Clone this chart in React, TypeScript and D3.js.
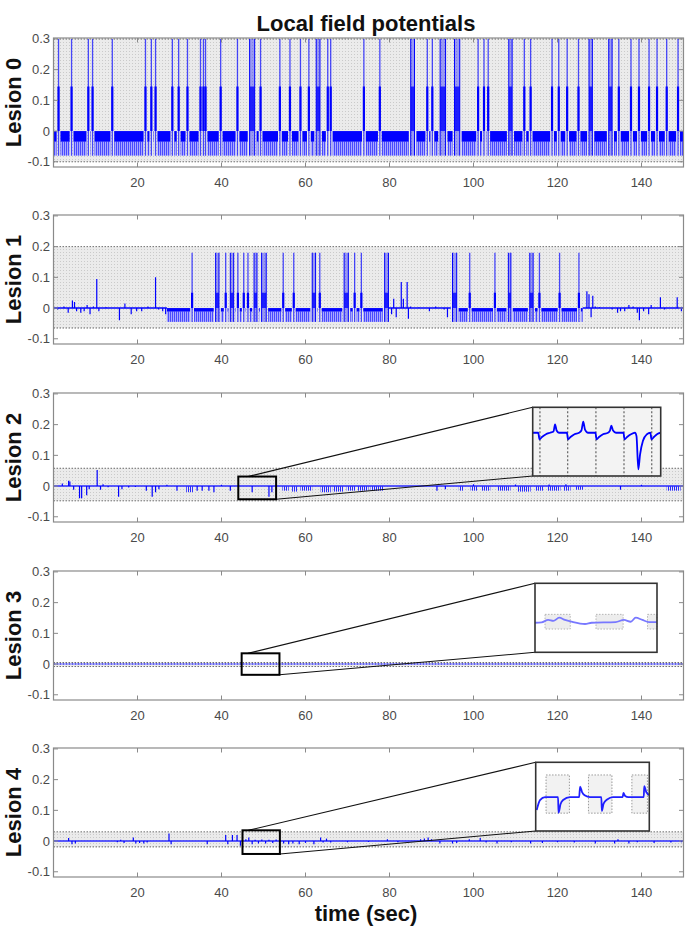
import React from "react";
import * as d3 from "d3";

// ---------------- DATA ----------------
const TITLE = "Local field potentials";
const X_LABEL = "time (sec)";
const PANEL_LABELS = ["Lesion 0", "Lesion 1", "Lesion 2", "Lesion 3", "Lesion 4"];
const X_DOMAIN = [0, 150];
const Y_DOMAIN = [-0.117, 0.303];
const X_TICKS = [20, 40, 60, 80, 100, 120, 140];
const Y_TICKS = [-0.1, 0, 0.1, 0.2, 0.3];
// threshold band (low, high) per lesion
const BANDS = [
  [-0.1, 0.3],
  [-0.065, 0.2],
  [-0.048, 0.058],
  [-0.008, 0.005],
  [-0.019, 0.03],
];

// Lesion 0 : burst times (s) and burst widths (s)
const L0_SPIKE_T = [1.2, 4.3, 8.3, 9.3, 14, 21.9, 23.3, 24.3, 28.3, 29.8, 31.9, 35, 35.7, 36.2, 39.8, 43.8,
  47.3, 49.3, 53.9, 56.3, 58.8, 60.8, 63, 65.3, 66, 73.9, 77.7, 85.5, 89, 90.2, 92.7, 96.1, 101.1, 102.5,
  103.5, 108.8, 112.1, 113.6, 118.7, 120.3, 122.3, 125, 127.9, 132.6, 134.6, 137.5, 139.4, 141.8, 143.7, 146, 148.7];
const L0_SPIKE_W = [0, 0, 0, 0, 0, 0, 0, 0, 0, 0, 0, 0, 0, 0, 0, 0,
  1.2, 0, 0, 0, 0, 0, 0.9, 0, 0, 0, 0, 0.9, 0, 0, 1.3, 1.25, 0, 0,
  0, 0.8, 0, 0, 0, 0, 0, 0, 0.8, 0.8, 0, 0, 0, 0, 0, 0, 0];
const L0_LEVELS = [0.145, 0.3]; // dense top, peak
const L0_FLOOR = [0, -0.035, -0.08]; // dense floor: top, mid, bottom
const L0_REGIONS = [[0, 150]];

// Lesion 1
const L1_SPIKE_T = [33, 39, 41, 42.5, 43.9, 45.3, 46.3, 48.1, 50.1, 54.7, 57.2, 62, 63.4, 69.7, 71.7, 73.3, 79.3,
  95.5, 99.1, 105.1, 108.6, 113.8, 115.7, 120.5, 125.1];
const L1_SPIKE_W = [0, 0.8, 0, 0.8, 0, 0, 0, 0.7, 1.1, 0, 0, 0.8, 0, 1.0, 0, 0, 0.9,
  1.0, 0, 0, 0.6, 0.8, 0, 0, 0];
const L1_LEVELS = [0.05, 0.18];
const L1_FLOOR = [0, -0.012, -0.045];
const L1_REGIONS = [[27, 79.8], [94.6, 126]];
const L1_QUIET = [[0, 27], [79.8, 94.6], [126, 150]];
const L1_EVENTS = [[1, -0.005], [2.5, 0.005], [3.5, -0.015], [4.5, 0.025], [5, 0.02], [5.5, -0.01], [6.5, -0.015],
  [7.3, -0.01], [8, 0.01], [8.7, -0.02], [9.5, 0.005], [10.3, 0.095], [10.8, -0.01], [12.5, 0.003], [15.7, -0.04],
  [17, 0.015], [18.5, -0.02], [19.8, -0.01], [21, -0.01], [22.5, 0.005], [24.3, 0.1], [25, -0.005], [26, -0.01],
  [26.7, -0.02], [80.5, -0.02], [81, 0.03], [81.6, -0.03], [82.8, 0.085], [83.3, 0.03], [84.2, 0.085], [84.5, -0.035],
  [85, 0.005], [87, 0.002], [89.5, -0.01], [91, 0.005], [93, -0.005], [93.8, -0.03], [127, 0.055], [127.5, 0.045],
  [128, -0.03], [128.4, 0.04], [129, 0.005], [130, 0.003], [133, -0.005], [134.3, -0.015], [135, -0.01], [136, -0.01],
  [137, 0.01], [138, 0.005], [139, -0.015], [139.5, -0.04], [140.5, -0.01], [141.7, -0.02], [142.3, 0.01],
  [144.5, 0.035], [145.5, -0.005], [148.5, 0.035], [149.5, -0.01]];

// Lesion 2
const L2_EVENTS = [[2.1, 0.008], [3.6, 0.017], [3.9, 0.015], [4.8, -0.012], [6.2, -0.04], [6.7, -0.04], [7.9, -0.03],
  [8.5, -0.01], [10.4, 0.052], [11.2, -0.012], [11.8, 0.006], [13, -0.004], [15.5, -0.035], [16.3, -0.01],
  [17.9, -0.005], [19.5, -0.003], [22.1, -0.015], [23.5, -0.035], [24.3, -0.02], [25.1, -0.01], [27, 0.004],
  [29.4, -0.015], [34.2, -0.015], [35.4, -0.015], [37, -0.015], [38.2, -0.02], [40, 0.004], [42.1, -0.015],
  [47.3, -0.02], [51.3, -0.035], [52, -0.02], [91.3, -0.015], [93.3, -0.01], [100, 0.006], [110, 0.005],
  [118, 0.005], [122, 0.006], [135, -0.012], [140, 0.004]];
const L2_CLUSTERS = [[31.6, 33.2, -0.02], [54.5, 56, -0.015], [56.8, 58.2, -0.018], [58.8, 61.6, -0.015],
  [63.6, 66, -0.02], [66.5, 69.1, -0.018], [69.8, 72, -0.015], [72.5, 75, -0.015], [75.5, 78.6, -0.015],
  [96.5, 97.6, -0.015], [99.3, 100.9, -0.015], [102, 104, -0.015], [105.6, 108.8, -0.015], [110.4, 113.6, -0.018],
  [114.8, 116.7, -0.015], [117.5, 120.7, -0.015], [121.5, 123.1, -0.015], [124.3, 126.3, -0.012], [146, 149.3, -0.015]];

// Lesion 4
const L4_EVENTS = [[3.6, 0.01], [4.4, -0.01], [5.2, -0.008], [15.2, -0.004], [16, 0.004], [16.8, -0.006], [19, 0.012],
  [19.6, -0.008], [20.5, -0.006], [21.5, -0.008], [22.3, -0.005], [27.5, 0.025], [28, -0.01], [36.6, -0.01],
  [41, 0.02], [41.5, -0.01], [42.6, 0.02], [43.7, 0.02], [44.5, -0.015], [45.8, 0.006], [46.5, 0.012],
  [47.3, -0.01], [48, 0.004], [48.8, -0.008], [49.6, 0.005], [50.5, -0.008], [51.3, 0.004], [52.2, -0.006],
  [53, 0.005], [54.8, -0.008], [56, -0.01], [57, -0.008], [58.5, -0.01], [60, -0.006], [62, -0.01], [63.6, 0.012],
  [64.2, -0.005], [65, 0.008], [66, -0.005], [70, -0.004], [75, -0.003], [79.5, 0.006], [82, -0.004], [87.4, 0.006],
  [88.3, 0.008], [89.2, 0.012], [90, 0.006], [92, -0.008], [95, -0.008], [96, -0.006], [99, 0.006], [101.6, 0.01],
  [103, -0.005], [105.6, -0.008], [109, -0.004], [113.6, -0.008], [116.4, -0.006], [120, -0.004], [124, -0.005],
  [129, -0.008], [133.6, -0.008], [134.4, 0.006], [137, -0.008], [139, -0.004], [143, -0.006], [147, -0.005],
  [149.5, -0.004]];

// Zoom windows and connector start time on top edge
const ZOOM_PANELS = [2, 3, 4];
const ZOOM_T = [[44, 53], [44.8, 53.8], [45, 53.9]];
const ZOOM_V = [[-0.043, 0.031], [-0.035, 0.035], [-0.042, 0.035]];
const ZOOM_LINK_T = [46.3, 46.3, 46.4];
// Inset axis domains
const INSET_T = [[44.5, 52.8], [45, 54], [45.1, 54.1]];
const INSET_V = [[-0.043, 0.031], [-0.035, 0.035], [-0.042, 0.035]];

const INSET2_MARKS = [44.97, 46.77, 48.6, 50.42, 52.22];
const INSET2_TRACE = [[44.5, 0.0036], [44.86, 0.0036], [44.94, -0.0035], [45.1, -0.001], [45.36, 0.002], [45.62, 0.0036],
  [45.85, 0.005], [45.95, 0.0127], [46.05, 0.006], [46.2, 0.0036], [46.72, 0.0036], [46.79, -0.0035], [46.95, -0.001],
  [47.21, 0.002], [47.5, 0.0036], [47.66, 0.006], [47.78, 0.0155], [47.89, 0.007], [48.09, 0.0036], [48.57, 0.0036],
  [48.64, -0.0035], [48.8, -0.001], [49.06, 0.002], [49.38, 0.0036], [49.51, 0.006], [49.6, 0.0112], [49.71, 0.006],
  [49.9, 0.0036], [50.39, 0.0036], [50.45, -0.0035], [50.62, -0.001], [50.87, 0.002], [51.13, 0.0036], [51.23, 0.0],
  [51.35, -0.0358], [51.46, -0.02], [51.65, -0.005], [51.91, 0.002], [52.13, 0.0036], [52.2, -0.0035], [52.36, -0.001],
  [52.56, 0.002], [52.8, 0.0036]];

const INSET3_BOXES_T = [[45.74, 47.6], [49.5, 51.5], [53.3, 54.2]];
const INSET3_BOX_V = [-0.0114, 0.0035];
const INSET3_TRACE = [[45, -0.005], [45.49, -0.0046], [45.98, -0.0022], [46.35, -0.0032], [46.79, 0.0001],
  [47.21, -0.0022], [47.7, -0.004], [48.69, -0.0063], [49.18, -0.005], [50.95, -0.0043], [51.56, -0.0022],
  [52.06, -0.004], [52.43, 0.0001], [52.92, -0.0022], [53.41, -0.0043], [54, -0.0043]];

const INSET4_BOXES_T = [[45.92, 47.77], [49.28, 51.14], [52.72, 53.95]];
const INSET4_BOX_V = [-0.022, 0.0208];
const INSET4_TRACE = [[45.18, -0.0185], [45.44, -0.0073], [45.84, -0.004], [46.71, -0.004], [46.87, -0.004],
  [46.91, -0.0215], [47.07, -0.0118], [47.27, -0.0073], [47.82, -0.004], [48.54, -0.004], [48.62, 0.0076],
  [48.77, 0.0017], [49.01, -0.0022], [49.4, -0.004], [50.3, -0.004], [50.34, -0.0196], [50.48, -0.0112],
  [50.76, -0.0067], [51.23, -0.004], [51.99, -0.004], [52.05, 0.0006], [52.19, -0.0028], [52.43, -0.004],
  [53.66, -0.004], [53.7, 0.0084], [53.86, 0.0017], [54.1, -0.0017]];

// ---------------- LAYOUT ----------------
const W = 685;
const H = 929;
const PANEL_TOPS = [38, 215, 393, 571, 748];
const PANEL_H = 129;
const X_RANGE = [53.5, 683.5];
const INSET_BOXES = [
  [532.7, 407.3, 660.7, 476],
  [535, 583.3, 657, 652.3],
  [535.7, 762.3, 649.3, 831],
];
const FONT = "'Liberation Sans', Arial, Helvetica, sans-serif";
const AXIS_COLOR = "#8a8a8a";
const TEXT_COLOR = "#4a4a4a";
const BLUE = "#0000ff";

const x = d3.scaleLinear().domain(X_DOMAIN).range(X_RANGE);
const yFor = (i: number) =>
  d3.scaleLinear().domain(Y_DOMAIN).range([PANEL_TOPS[i] + PANEL_H, PANEL_TOPS[i]]);

function bandSegments(region: number[], ts: number[], ws: number[], gap: number) {
  const [a, b] = region;
  const segs: number[][] = [];
  let start = a;
  const idx = ts.map((t, i) => i).sort((p, q) => ts[p] - ts[q]);
  idx.forEach((i) => {
    const t = ts[i];
    if (t < a || t > b) return;
    const half = ws[i] / 2 + gap;
    const end = t - half;
    if (end > start) segs.push([start, end]);
    start = Math.max(start, t + half);
  });
  if (b > start) segs.push([start, b]);
  return segs;
}

function Bursts({ i, ts, ws, levels, floor, regions }: any) {
  const y = yFor(i);
  const segs = regions.flatMap((r: number[]) => bandSegments(r, ts, ws, 0.45));
  return (
    <g>
      {segs.map((s: number[], k: number) => (
        <g key={"s" + k}>
          <rect x={x(s[0])} width={x(s[1]) - x(s[0])} y={y(floor[0])} height={y(floor[1]) - y(floor[0])} fill={BLUE} />
          <rect x={x(s[0])} width={x(s[1]) - x(s[0])} y={y(floor[1])} height={y(floor[2]) - y(floor[1])} fill="url(#stripes)" />
        </g>
      ))}
      {ts.map((t: number, k: number) => {
        const w = ws[k];
        if (w > 0) {
          const x0 = x(t - w / 2), x1 = x(t + w / 2);
          return (
            <g key={"b" + k}>
              <rect x={x0} width={x1 - x0} y={y(levels[1])} height={y(floor[2]) - y(levels[1])} fill={BLUE} fillOpacity={0.35} />
              <rect x={x0} width={x1 - x0} y={y(levels[0])} height={y(0) - y(levels[0])} fill={BLUE} fillOpacity={0.8} />
              <line x1={x0} x2={x0} y1={y(levels[1])} y2={y(floor[2])} stroke={BLUE} strokeWidth={1} />
              <line x1={x1} x2={x1} y1={y(levels[1])} y2={y(floor[2])} stroke={BLUE} strokeWidth={1} />
            </g>
          );
        }
        return (
          <g key={"b" + k}>
            <line x1={x(t)} x2={x(t)} y1={y(levels[1])} y2={y(floor[2])} stroke={BLUE} strokeOpacity={0.7} strokeWidth={1.3} />
            <line x1={x(t)} x2={x(t)} y1={y(levels[0])} y2={y(0)} stroke={BLUE} strokeWidth={2.2} />
          </g>
        );
      })}
    </g>
  );
}

function Events({ i, events, width = 1.2 }: any) {
  const y = yFor(i);
  return (
    <g>
      {events.map((e: number[], k: number) => (
        <line key={k} x1={x(e[0])} x2={x(e[0])} y1={y(0)} y2={y(e[1])} stroke={BLUE} strokeWidth={width} />
      ))}
    </g>
  );
}

function Baseline({ i, ranges, color = BLUE, width = 1.4, dash }: any) {
  const y = yFor(i);
  return (
    <g>
      {ranges.map((r: number[], k: number) => (
        <line key={k} x1={x(r[0])} x2={x(r[1])} y1={y(0)} y2={y(0)} stroke={color} strokeWidth={width} strokeDasharray={dash} />
      ))}
    </g>
  );
}

function Band({ i }: { i: number }) {
  const y = yFor(i);
  const [lo, hi] = BANDS[i];
  return (
    <g>
      <rect x={X_RANGE[0]} width={X_RANGE[1] - X_RANGE[0]} y={y(hi)} height={y(lo) - y(hi)} fill="url(#dots)" />
      {[lo, hi].map((v, k) => (
        <line key={k} x1={X_RANGE[0]} x2={X_RANGE[1]} y1={y(v)} y2={y(v)} stroke="#6e6e6e" strokeWidth={1} strokeDasharray="1.5 1.5" />
      ))}
    </g>
  );
}

function Axes({ i }: { i: number }) {
  const y = yFor(i);
  const top = PANEL_TOPS[i];
  const bot = top + PANEL_H;
  const tl = 4.5;
  return (
    <g fontFamily={FONT}>
      <rect x={X_RANGE[0]} y={top} width={X_RANGE[1] - X_RANGE[0]} height={PANEL_H} fill="none" stroke={AXIS_COLOR} strokeWidth={1.2} />
      {X_TICKS.map((t) => (
        <g key={"x" + t}>
          <line x1={x(t)} x2={x(t)} y1={bot} y2={bot - tl} stroke={AXIS_COLOR} strokeWidth={1} />
          <line x1={x(t)} x2={x(t)} y1={top} y2={top + tl} stroke={AXIS_COLOR} strokeWidth={1} />
          <text x={x(t)} y={bot + 20} textAnchor="middle" fontSize={13} fill={TEXT_COLOR}>{t}</text>
        </g>
      ))}
      {Y_TICKS.map((v) => (
        <g key={"y" + v}>
          <line x1={X_RANGE[0]} x2={X_RANGE[0] + tl} y1={y(v)} y2={y(v)} stroke={AXIS_COLOR} strokeWidth={1} />
          <line x1={X_RANGE[1]} x2={X_RANGE[1] - tl} y1={y(v)} y2={y(v)} stroke={AXIS_COLOR} strokeWidth={1} />
          <text x={50} y={y(v) + 4.5} textAnchor="end" fontSize={13} fill={TEXT_COLOR}>{v === 0 ? "0" : v.toFixed(1)}</text>
        </g>
      ))}
      <text transform={`translate(20.5,${top + PANEL_H / 2}) rotate(-90)`} textAnchor="middle" fontSize={22} fontWeight="bold" fill="#111">
        {PANEL_LABELS[i]}
      </text>
    </g>
  );
}

function Zoom({ k }: { k: number }) {
  const i = ZOOM_PANELS[k];
  const y = yFor(i);
  const [t0, t1] = ZOOM_T[k];
  const [v0, v1] = ZOOM_V[k];
  const [ix0, iy0, ix1, iy1] = INSET_BOXES[k];
  const xi = d3.scaleLinear().domain(INSET_T[k]).range([ix0, ix1]);
  const yi = d3.scaleLinear().domain(INSET_V[k]).range([iy1, iy0]);
  const line = d3.line<number[]>().x((d) => xi(d[0])).y((d) => yi(d[1])).curve(d3.curveMonotoneX);
  let content: any = null;
  if (k === 0) {
    content = (
      <g>
        <rect x={ix0} y={iy0} width={ix1 - ix0} height={iy1 - iy0} fill="#f3f3f3" />
        {INSET2_MARKS.map((t, j) => (
          <line key={j} x1={xi(t)} x2={xi(t)} y1={iy0} y2={iy1} stroke="#555" strokeWidth={1.1} strokeDasharray="2 2" />
        ))}
        <path d={line(INSET2_TRACE) || ""} fill="none" stroke={BLUE} strokeWidth={1.8} />
      </g>
    );
  } else if (k === 1) {
    content = (
      <g>
        <rect x={ix0} y={iy0} width={ix1 - ix0} height={iy1 - iy0} fill="#ffffff" />
        {INSET3_BOXES_T.map((b, j) => {
          const bx0 = xi(b[0]), bx1 = Math.min(xi(b[1]), ix1);
          return (
            <rect key={j} x={bx0} y={yi(INSET3_BOX_V[1])} width={bx1 - bx0} height={yi(INSET3_BOX_V[0]) - yi(INSET3_BOX_V[1])}
              fill="#ededed" stroke="#b5b5b5" strokeWidth={1} strokeDasharray="1.5 1.5" />
          );
        })}
        <path d={line(INSET3_TRACE) || ""} fill="none" stroke="#7878ff" strokeWidth={1.8} />
      </g>
    );
  } else {
    content = (
      <g>
        <rect x={ix0} y={iy0} width={ix1 - ix0} height={iy1 - iy0} fill="#ffffff" />
        {INSET4_BOXES_T.map((b, j) => {
          const bx0 = xi(b[0]), bx1 = Math.min(xi(b[1]), ix1);
          return (
            <rect key={j} x={bx0} y={yi(INSET4_BOX_V[1])} width={bx1 - bx0} height={yi(INSET4_BOX_V[0]) - yi(INSET4_BOX_V[1])}
              fill="#f2f2f2" stroke="#9a9a9a" strokeWidth={1} strokeDasharray="1.5 1.5" />
          );
        })}
        <path d={line(INSET4_TRACE) || ""} fill="none" stroke="#1f1fff" strokeWidth={1.8} />
      </g>
    );
  }
  return (
    <g>
      <line x1={x(ZOOM_LINK_T[k])} y1={y(v1)} x2={ix0} y2={iy0} stroke="#111" strokeWidth={1.1} />
      <line x1={x(t1)} y1={y(v0)} x2={ix0} y2={iy1} stroke="#111" strokeWidth={1.1} />
      <rect x={x(t0)} y={y(v1)} width={x(t1) - x(t0)} height={y(v0) - y(v1)} fill="none" stroke="#000" strokeWidth={2} />
      {content}
      <rect x={ix0} y={iy0} width={ix1 - ix0} height={iy1 - iy0} fill="none" stroke="#333" strokeWidth={1.6} />
    </g>
  );
}

export default function App() {
  const y2 = yFor(2);
  return (
    <svg width={W} height={H} viewBox={`0 0 ${W} ${H}`} style={{ position: "absolute", left: 0, top: 0, background: "#fff" }}>
      <defs>
        <pattern id="dots" width={3} height={3} patternUnits="userSpaceOnUse">
          <rect width={3} height={3} fill="#ebebeb" />
          <rect width={1} height={1} fill="#cacaca" />
        </pattern>
        <pattern id="stripes" width={2} height={3} patternUnits="userSpaceOnUse">
          <rect width={2} height={3} fill="#a8a8ff" />
          <rect width={1} height={3} fill="#4a4aff" />
        </pattern>
        <pattern id="stripes2" width={2} height={3} patternUnits="userSpaceOnUse">
          <rect width={1} height={3} fill="#2a2aff" />
        </pattern>
        {PANEL_TOPS.map((t, i) => (
          <clipPath id={"clip" + i} key={i}>
            <rect x={X_RANGE[0]} y={t} width={X_RANGE[1] - X_RANGE[0]} height={PANEL_H} />
          </clipPath>
        ))}
      </defs>
      <text x={366} y={31} textAnchor="middle" fontFamily={FONT} fontSize={22} fontWeight="bold" fill="#111">{TITLE}</text>

      {PANEL_TOPS.map((_, i) => (
        <g key={"band" + i} clipPath={`url(#clip${i})`}>
          <Band i={i} />
        </g>
      ))}

      <g clipPath="url(#clip0)">
        <Bursts i={0} ts={L0_SPIKE_T} ws={L0_SPIKE_W} levels={L0_LEVELS} floor={L0_FLOOR} regions={L0_REGIONS} />
      </g>
      <g clipPath="url(#clip1)">
        <Baseline i={1} ranges={L1_QUIET} />
        <Events i={1} events={L1_EVENTS} />
        <Bursts i={1} ts={L1_SPIKE_T} ws={L1_SPIKE_W} levels={L1_LEVELS} floor={L1_FLOOR} regions={L1_REGIONS} />
      </g>
      <g clipPath="url(#clip2)">
        <Baseline i={2} ranges={[X_DOMAIN]} color="#2a2aff" width={1.6} />
        {L2_CLUSTERS.map((c, k) => (
          <rect key={k} x={x(c[0])} width={x(c[1]) - x(c[0])} y={y2(0)} height={y2(c[2]) - y2(0)} fill="url(#stripes2)" />
        ))}
        <Events i={2} events={L2_EVENTS} />
      </g>
      <g clipPath="url(#clip3)">
        <Baseline i={3} ranges={[X_DOMAIN]} color="#3a3aff" width={1.6} dash="2 1" />
      </g>
      <g clipPath="url(#clip4)">
        <Baseline i={4} ranges={[X_DOMAIN]} color="#2a2aff" width={1.4} />
        <Events i={4} events={L4_EVENTS} />
      </g>

      {PANEL_TOPS.map((_, i) => (
        <Axes key={"ax" + i} i={i} />
      ))}
      {ZOOM_PANELS.map((_, k) => (
        <Zoom key={"z" + k} k={k} />
      ))}

      <text x={366} y={921} textAnchor="middle" fontFamily={FONT} fontSize={22} fontWeight="bold" fill="#111">{X_LABEL}</text>
    </svg>
  );
}
